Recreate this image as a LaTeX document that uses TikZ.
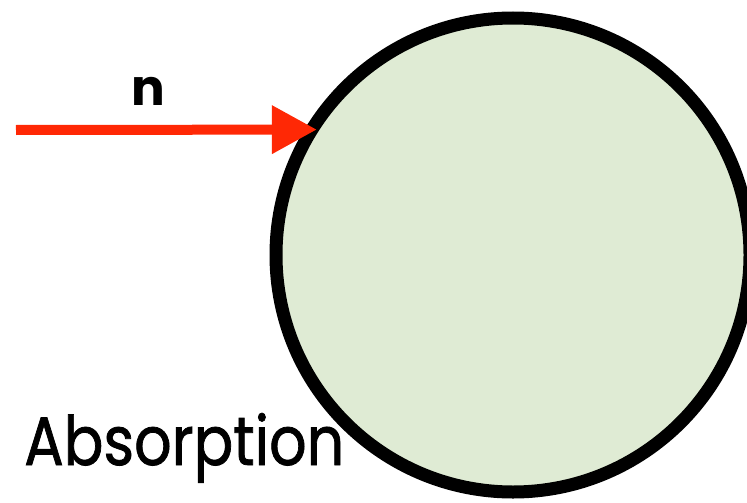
\documentclass[tikz,border=0pt]{standalone}
\usepackage{fontspec}
\setmainfont{Poppins}
\usetikzlibrary{arrows.meta}
\definecolor{cellfill}{RGB}{223,235,212}
\definecolor{beamred}{RGB}{255,40,5}
\tikzset{
  cell/.style={circle, draw=black, fill=cellfill, line width=13pt,
    minimum size=474pt, inner sep=0pt},
  beam/.style={draw=beamred, line width=10pt,
    -{Triangle[length=45pt,width=46pt]}}
}
\begin{document}
\begin{tikzpicture}[x=1pt, y=-1pt]
  \useasboundingbox (0,0) rectangle (747,503);
  % the absorbing body
  \node[cell] (ball) at (513,255) {};
  % incoming neutron
  \coordinate (src) at (16,130);
  \draw[beam, shorten >=-12.6pt] (src) -- (ball.149.8);
  \node[anchor=base, font=\bfseries\fontsize{50}{50}\selectfont, inner sep=0pt]
    (nlabel) at (148.5,105) {n};
  \node[anchor=base west, inner sep=0pt] (title) at (24,465)
    {\resizebox{320pt}{52pt}{\addfontfeature{FakeBold=1.2}Absorption}};
\end{tikzpicture}
\end{document}
